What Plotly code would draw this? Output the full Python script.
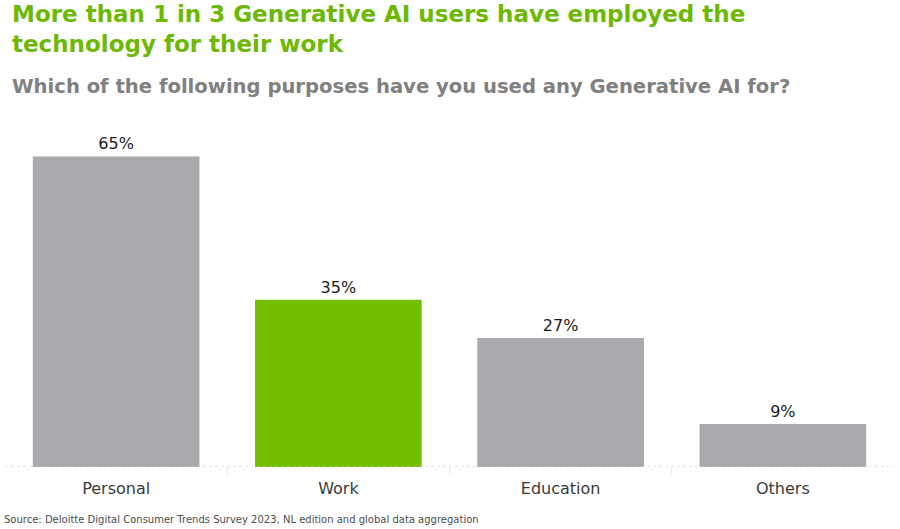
import plotly.graph_objects as go

categories = ["Personal", "Work", "Education", "Others"]
values = [65, 35, 27, 9]
labels = ["65%", "35%", "27%", "9%"]
highlight = "Work"

GREY = "#A8AAAD"
GREEN = "#74BE00"

bar_colors = [GREEN if c == highlight else GREY for c in categories]

fig = go.Figure()
fig.add_trace(go.Bar(
    x=categories,
    y=values,
    marker_color=bar_colors,
    marker_line_width=0,
    text=labels,
    textposition="outside",
    textfont=dict(size=16, color="#1a1a1a", family="DejaVu Sans"),
    cliponaxis=False,
    width=0.75,
    hoverinfo="skip",
))

fig.update_layout(
    width=900,
    height=529,
    paper_bgcolor="white",
    plot_bgcolor="white",
    showlegend=False,
    margin=dict(l=5, r=6, t=123, b=62),
    font=dict(family="DejaVu Sans", color="#333333"),
    xaxis=dict(
        showgrid=False,
        showline=False,
        ticks="",
        tickfont=dict(size=16, color="#3a3a3a"),
        ticklabelstandoff=10,
    ),
    yaxis=dict(
        range=[0, 72],
        visible=False,
    ),
    shapes=[
        dict(type="line", xref="paper", yref="y", x0=0, x1=1, y0=0, y1=0,
             line=dict(color="#CFCFCF", width=1, dash="dot")),
        dict(type="line", xref="x", yref="paper", x0=0.5, x1=0.5, y0=0, y1=-0.022,
             line=dict(color="#E3E3E3", width=1)),
        dict(type="line", xref="x", yref="paper", x0=1.5, x1=1.5, y0=0, y1=-0.022,
             line=dict(color="#E3E3E3", width=1)),
        dict(type="line", xref="x", yref="paper", x0=2.5, x1=2.5, y0=0, y1=-0.022,
             line=dict(color="#E3E3E3", width=1)),
    ],
    annotations=[
        dict(text="<b>More than 1 in 3 Generative AI users have employed the<br>technology for their work</b>",
             xref="paper", yref="paper", x=0, y=1, xanchor="left", yanchor="top",
             xshift=5, yshift=124, align="left", showarrow=False,
             font=dict(size=23, color="#6DB800", family="DejaVu Sans")),
        dict(text="<b>Which of the following purposes have you used any Generative AI for?</b>",
             xref="paper", yref="paper", x=0, y=1, xanchor="left", yanchor="top",
             xshift=5, yshift=50, align="left", showarrow=False,
             font=dict(size=19.6, color="#808080", family="DejaVu Sans")),
        dict(text="Source: Deloitte Digital Consumer Trends Survey 2023, NL edition and global data aggregation",
             xref="paper", yref="paper", x=0, y=0, xanchor="left", yanchor="top",
             xshift=-3, yshift=-45, align="left", showarrow=False,
             font=dict(size=10, color="#4D4D4D", family="DejaVu Sans")),
    ],
)

fig.write_html("out.html", config={"displayModeBar": False},
               post_script="document.body.style.margin='0';")
